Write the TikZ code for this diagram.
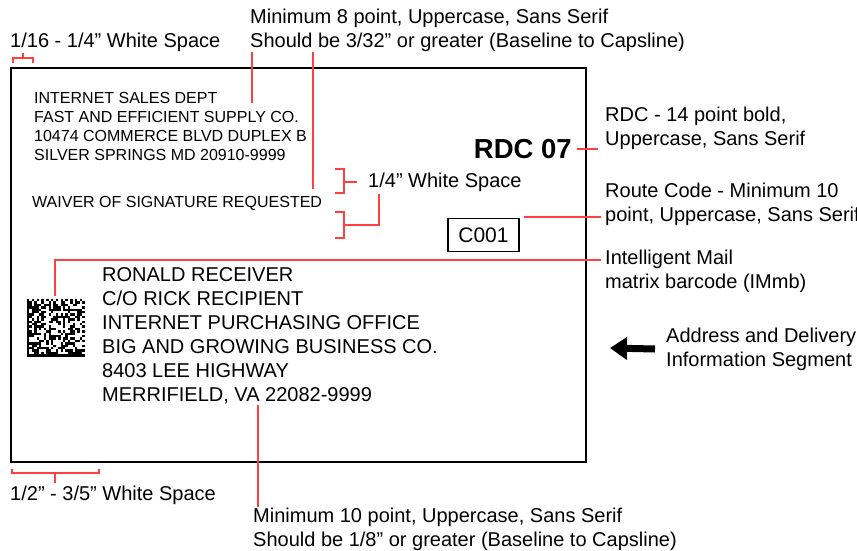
\documentclass[tikz,border=0pt]{standalone}
\usepackage{fontspec}
\setmainfont{Liberation Sans}
\usetikzlibrary{arrows.meta,positioning}

\begin{document}
\begin{tikzpicture}[
    x=1pt, y=-1pt,
    note/.style={anchor=west, align=left, inner sep=0pt, font=\fontsize{20}{24}\selectfont},
    retaddr/.style={anchor=west, align=left, inner sep=0pt, font=\fontsize{16}{19}\selectfont},
    addr/.style={anchor=west, align=left, inner sep=0pt, font=\fontsize{20}{24}\selectfont},
    leader/.style={draw=red!75, line width=1.1pt},
    bracket/.style={draw=red!75, line width=1.1pt},
    module/.style={fill=black}
]
\useasboundingbox (0,0) rectangle (857,550);

% Label piece
\draw[line width=1.6pt] (11,68) rectangle (586,462);

% Top texts
\node[note] (ws16) at (10,42) {1/16 - 1/4” White Space};
\node[note] (min8) at (250,30) {Minimum 8 point, Uppercase, Sans Serif\\Should be 3/32” or greater (Baseline to Capsline)};

% Return address
\node[retaddr] (ret) at (34,126.5) {INTERNET SALES DEPT\\FAST AND EFFICIENT SUPPLY CO.\\10474 COMMERCE BLVD DUPLEX B\\SILVER SPRINGS MD 20910-9999};
\node[retaddr] (waiver) at (32,203) {WAIVER OF SIGNATURE REQUESTED};

% RDC and route code
\node[anchor=east, inner sep=0pt, font=\fontsize{27.5}{30}\bfseries] (rdc) at (572,149) {RDC 07};
\node[draw, line width=1.2pt, minimum width=71pt, minimum height=33pt, inner sep=0pt,
      font=\fontsize{21}{24}\selectfont] (route) at (483.5,235) {C001};
\node[note] (ws14) at (368,182) {1/4” White Space};

% Delivery address
\node[addr] (to) at (102,336) {RONALD RECEIVER\\C/O RICK RECIPIENT\\INTERNET PURCHASING OFFICE\\BIG AND GROWING BUSINESS CO.\\8403 LEE HIGHWAY\\MERRIFIELD, VA 22082-9999};

% Barcode
\coordinate (imb) at (27,299);
\pgfmathsetseed{4217}
\begin{scope}[shift={(imb)}]
  \fill (0,0) rectangle (2.4,57.6);
  \fill (0,55.2) rectangle (57.6,57.6);
  \foreach \k in {0,2,...,22} {
    \fill[module] (\k*2.4,0) rectangle ++(2.4,2.4);
    \fill[module] (55.2,{(\k+1)*2.4}) rectangle ++(2.4,2.4);
  }
  \foreach \i in {1,...,22} {
    \foreach \j in {1,...,22} {
      \pgfmathrandominteger{\b}{0}{1}
      \ifnum\b=1 \fill[module] (\i*2.4,\j*2.4) rectangle ++(2.4,2.4); \fi
    }
  }
\end{scope}

% Right side notes
\node[note] (rdcnote) at (605,128.5) {RDC - 14 point bold,\\Uppercase, Sans Serif};
\node[note] (routenote) at (605,204.5) {Route Code - Minimum 10\\point, Uppercase, Sans Serif};
\node[note] (imbnote) at (605,271) {Intelligent Mail\\matrix barcode (IMmb)};
\node[note] (segnote) at (666,349) {Address and Delivery\\Information Segment};

% Bottom notes
\node[note] (ws12) at (10,495) {1/2” - 3/5” White Space};
\node[note] (min10) at (253,529) {Minimum 10 point, Uppercase, Sans Serif\\Should be 1/8” or greater (Baseline to Capsline)};

% Brackets
\draw[bracket] (13,63) -- (13,58) -- (33,58) -- (33,63);
\draw[bracket] (23,58) -- (23,53);
\draw[bracket] (335,169) -- (344,169) -- (344,193) -- (335,193);
\draw[bracket] (344,182) -- ([xshift=-11pt]ws14.west);
\draw[bracket] (335,212) -- (344,212) -- (344,238) -- (335,238);
\draw[bracket] (344,225) -- (379,225) -- (379,194);
\draw[bracket] (12,469) -- (12,473) -- (99,473) -- (99,469);
\draw[bracket] (55,473) -- (55,483);

% Leaders
\coordinate (r1) at (252,103);
\coordinate (r2) at (313,189);
\draw[leader] (r1 |- min8.south) -- (r1);
\draw[leader] (r2 |- min8.south) -- (r2);
\draw[leader] ([xshift=5pt]rdc.east) -- ([xshift=-7pt]rdcnote.west |- rdc.east);
\coordinate (rc) at (524,217);
\draw[leader] (rc) -- ([xshift=-4pt]routenote.west |- rc);
\coordinate (bc) at (55,296);
\draw[leader] (bc) -- (55,260) -- ([xshift=-4pt]imbnote.west |- 0,260);
\coordinate (r3) at (258,405);
\draw[leader] (r3) -- (r3 |- min10.north);

% Segment arrow
\coordinate (segtip) at (610,348);
\draw[line width=7pt, -{Triangle[length=17pt,width=22pt]}] ([xshift=-11pt]segnote.west) -- (segtip);

\end{tikzpicture}
\end{document}
